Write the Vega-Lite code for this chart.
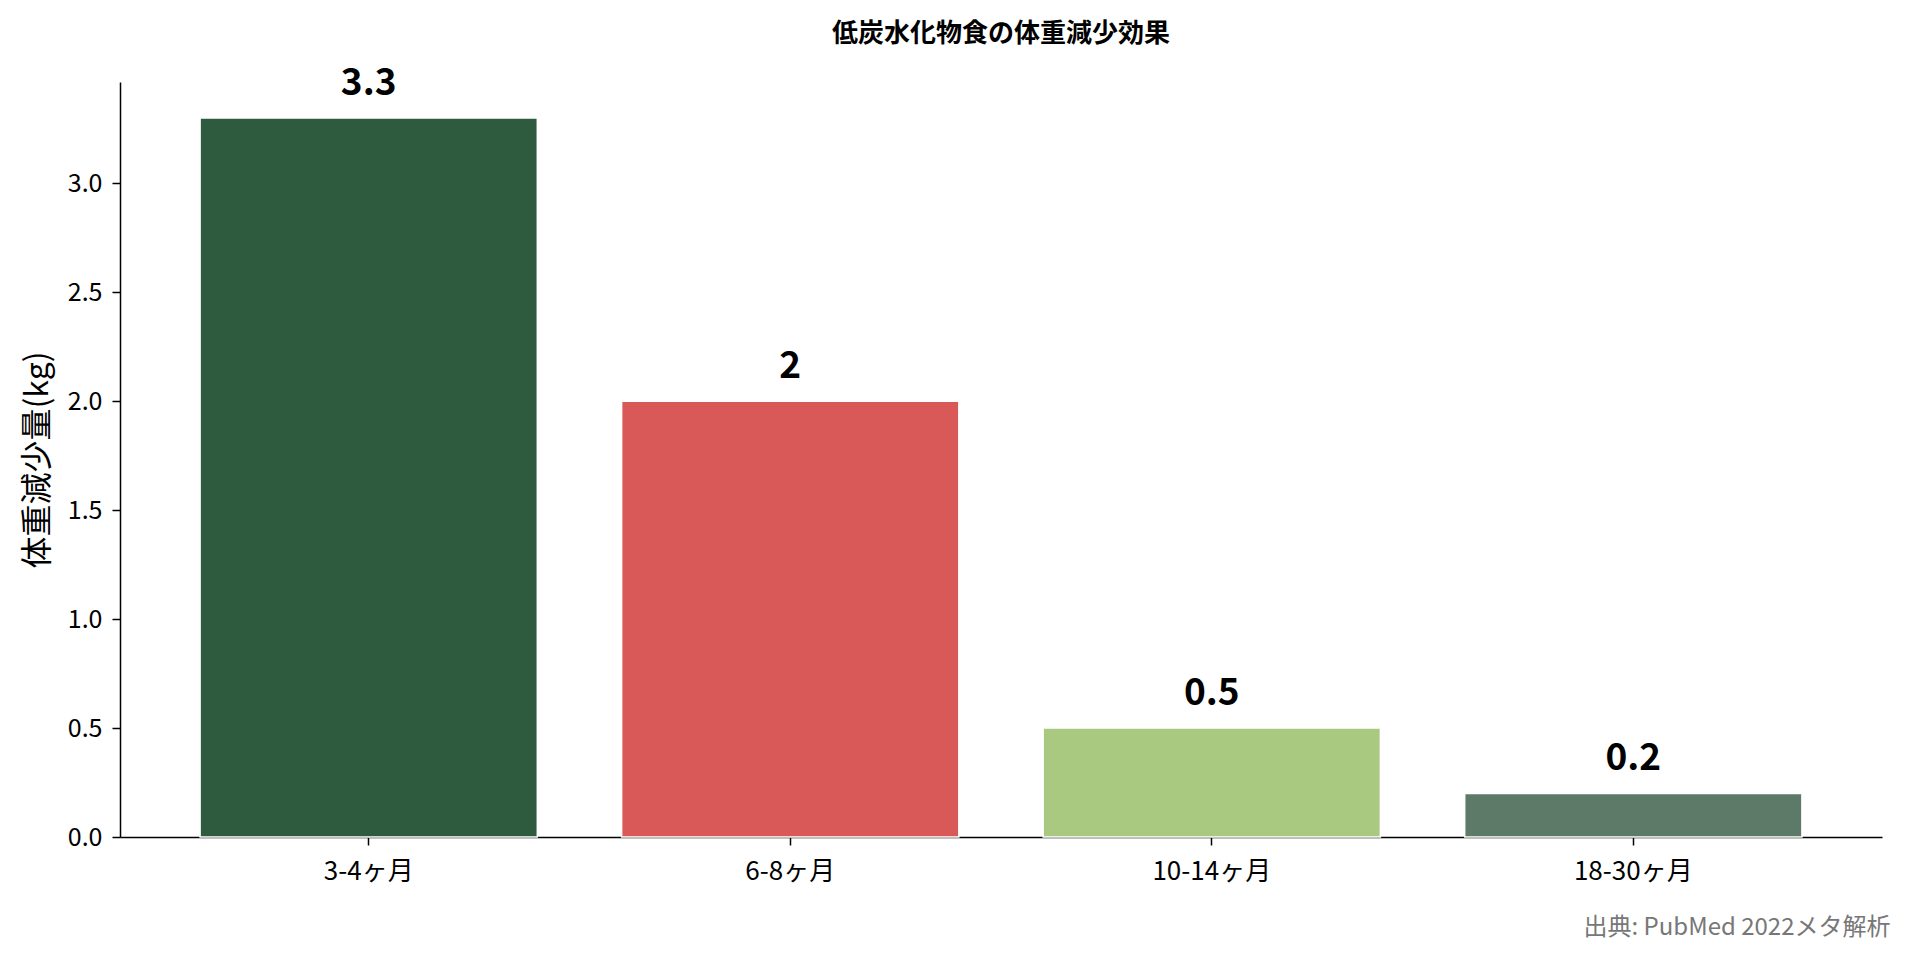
{
  "$schema": "https://vega.github.io/schema/vega-lite/v6.json",
  "width": 1762,
  "height": 755,
  "autosize": {"type": "none"},
  "padding": {"left": 120, "top": 82, "right": 28, "bottom": 122},
  "background": "white",
  "config": {
    "font": "Noto Sans CJK JP",
    "view": {"stroke": null}
  },
  "title": {
    "text": "低炭水化物食の体重減少効果",
    "fontSize": 26,
    "fontWeight": "bold",
    "color": "black",
    "anchor": "middle",
    "offset": 18
  },
  "data": {
    "values": [
      {"period": "3-4ヶ月", "loss": 3.3},
      {"period": "6-8ヶ月", "loss": 2},
      {"period": "10-14ヶ月", "loss": 0.5},
      {"period": "18-30ヶ月", "loss": 0.2}
    ]
  },
  "encoding": {
    "x": {
      "field": "period",
      "type": "nominal",
      "sort": null,
      "scale": {"paddingInner": 0.2, "paddingOuter": 0.19},
      "axis": {
        "title": "出典: PubMed 2022メタ解析",
        "titleFontSize": 24,
        "titleFontWeight": "normal",
        "titleColor": "#777777",
        "titleAlign": "right",
        "titleBaseline": "top",
        "titleX": 1770,
        "titleY": 78,
        "labelAngle": 0,
        "labelFontSize": 26,
        "labelColor": "black",
        "labelPadding": 13,
        "tickSize": 8,
        "tickColor": "black",
        "tickWidth": 1.5,
        "domainColor": "black",
        "domainWidth": 1.5,
        "grid": false
      }
    },
    "y": {
      "field": "loss",
      "type": "quantitative",
      "scale": {"domain": [0, 3.465], "nice": false, "zero": true},
      "axis": {
        "title": "体重減少量(kg)",
        "titleFontSize": 32,
        "titleFontWeight": "normal",
        "titleColor": "black",
        "titlePadding": 13,
        "values": [0, 0.5, 1, 1.5, 2, 2.5, 3],
        "format": ".1f",
        "labelFontSize": 25,
        "labelColor": "black",
        "labelPadding": 10,
        "tickSize": 8,
        "tickColor": "black",
        "tickWidth": 1.5,
        "domainColor": "black",
        "domainWidth": 1.5,
        "grid": false
      }
    }
  },
  "layer": [
    {
      "mark": {"type": "bar", "stroke": "white", "strokeWidth": 1.5},
      "encoding": {
        "color": {
          "field": "period",
          "type": "nominal",
          "scale": {
            "domain": ["3-4ヶ月", "6-8ヶ月", "10-14ヶ月", "18-30ヶ月"],
            "range": ["#2E5B3E", "#D95959", "#AAC980", "#5D7A68"]
          },
          "legend": null
        }
      }
    },
    {
      "mark": {
        "type": "text",
        "fontSize": 37,
        "fontWeight": "bold",
        "baseline": "alphabetic",
        "dy": -23,
        "color": "black"
      },
      "encoding": {
        "text": {"field": "loss", "type": "quantitative", "format": "~g"}
      }
    }
  ]
}
